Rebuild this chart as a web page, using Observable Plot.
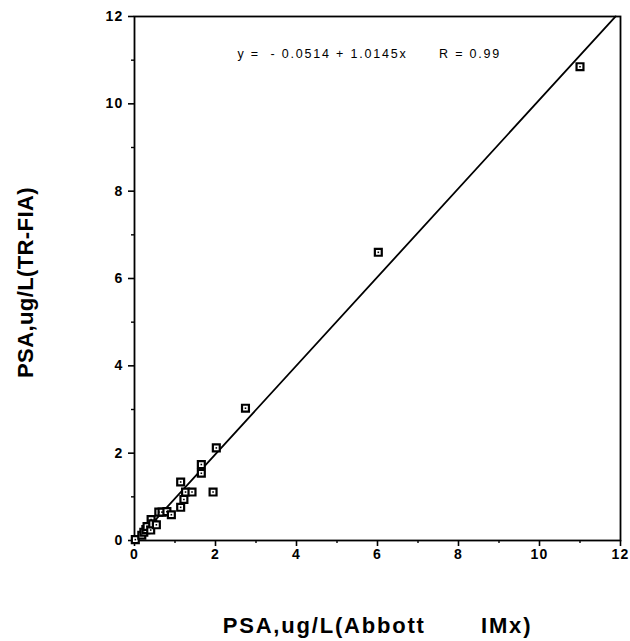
<!DOCTYPE html>
<html>
<head>
<meta charset="utf-8">
<script src="https://cdn.jsdelivr.net/npm/d3@7"></script>
<script src="https://cdn.jsdelivr.net/npm/@observablehq/plot@0.6"></script>
<style>
  html, body { margin: 0; padding: 0; background: #fff; }
  svg text { white-space: pre; }
</style>
</head>
<body>
<div id="chart"></div>
<script>
// Abbott IMx (x) vs TR-FIA (y), ug/L
const abbott = [0.02, 0.18, 0.23, 0.28, 0.31, 0.40, 0.41, 0.45, 0.54, 0.60, 0.68, 0.80, 0.91, 1.14, 1.22, 1.26, 1.42, 1.14, 1.94, 1.65, 1.65, 2.02, 2.74, 6.02, 11.0];
const trfia  = [0.02, 0.12, 0.19, 0.25, 0.32, 0.24, 0.48, 0.38, 0.36, 0.65, 0.65, 0.66, 0.59, 0.76, 0.94, 1.11, 1.11, 1.34, 1.11, 1.54, 1.74, 2.12, 3.03, 6.60, 10.85];
const intercept = -0.0514;
const slope = 1.0145;
const fitRange = [0.15, 11.88];
const majorTicks = [0, 2, 4, 6, 8, 10, 12];
const minorTicks = [1, 3, 5, 7, 9, 11];
const equation = "y =  - 0.0514 + 1.0145x      R = 0.99";
const xLabel = "PSA,ug/L(Abbott       IMx)";
const yLabel = "PSA,ug/L(TR-FIA)";

const points = abbott.map((x, i) => ({x, y: trfia[i]}));
const fit = fitRange.map(x => ({x, y: intercept + slope * x}));

const chart = Plot.plot({
  width: 630,
  height: 641,
  marginLeft: 134,
  marginRight: 10,
  marginTop: 16,
  marginBottom: 101,
  style: {fontFamily: "Liberation Sans, Arial, sans-serif", background: "#fff", color: "#000"},
  x: {domain: [0, 12]},
  y: {domain: [0, 12]},
  marks: [
    Plot.frame({stroke: "#000", strokeWidth: 1.8}),
    Plot.axisX({ticks: majorTicks, tickSize: 6, tickPadding: 3, strokeWidth: 1.6, fontSize: 14, fontWeight: "bold", label: null}),
    Plot.axisX({ticks: minorTicks, tickSize: 3, text: null, strokeWidth: 1.4, label: null}),
    Plot.axisY({ticks: majorTicks, tickSize: 6, tickPadding: 5, strokeWidth: 1.6, fontSize: 14, fontWeight: "bold", label: null}),
    Plot.axisY({ticks: minorTicks, tickSize: 3, text: null, strokeWidth: 1.4, label: null}),
    Plot.line(fit, {x: "x", y: "y", stroke: "#000", strokeWidth: 1.8}),
    Plot.dot(points, {x: "x", y: "y", symbol: "square", r: 3.9, fill: "#fff", stroke: "#000", strokeWidth: 2.2}),
    Plot.dot(points, {x: "x", y: "y", symbol: "square", r: 0.9, fill: "#000"}),
    Plot.text([equation], {text: d => d, frameAnchor: "top-left", textAnchor: "start", lineAnchor: "middle", dx: 103, dy: 37.5, fontSize: 12.5, fill: "#000"}),
    Plot.text([xLabel], {text: d => d, frameAnchor: "bottom", lineAnchor: "middle", dy: 85, fontSize: 22, fontWeight: "bold", fill: "#000"}),
    Plot.text([yLabel], {text: d => d, frameAnchor: "left", textAnchor: "middle", lineAnchor: "middle", dx: -109, dy: 4, rotate: -90, fontSize: 22, fontWeight: "bold", fill: "#000"})
  ]
});
const svg = d3.select(chart);
svg.selectAll('g[aria-label*="tick label"]').attr("font-size", 14).attr("font-weight", "bold").attr("letter-spacing", "1.2px");
const textGroups = svg.selectAll('g[aria-label="text"]').nodes();
const spacing = ["1.8px", "1.8px", "0.4px"];
textGroups.forEach((g, i) => d3.select(g).attr("letter-spacing", spacing[i]));
document.getElementById("chart").appendChild(chart);
</script>
</body>
</html>
